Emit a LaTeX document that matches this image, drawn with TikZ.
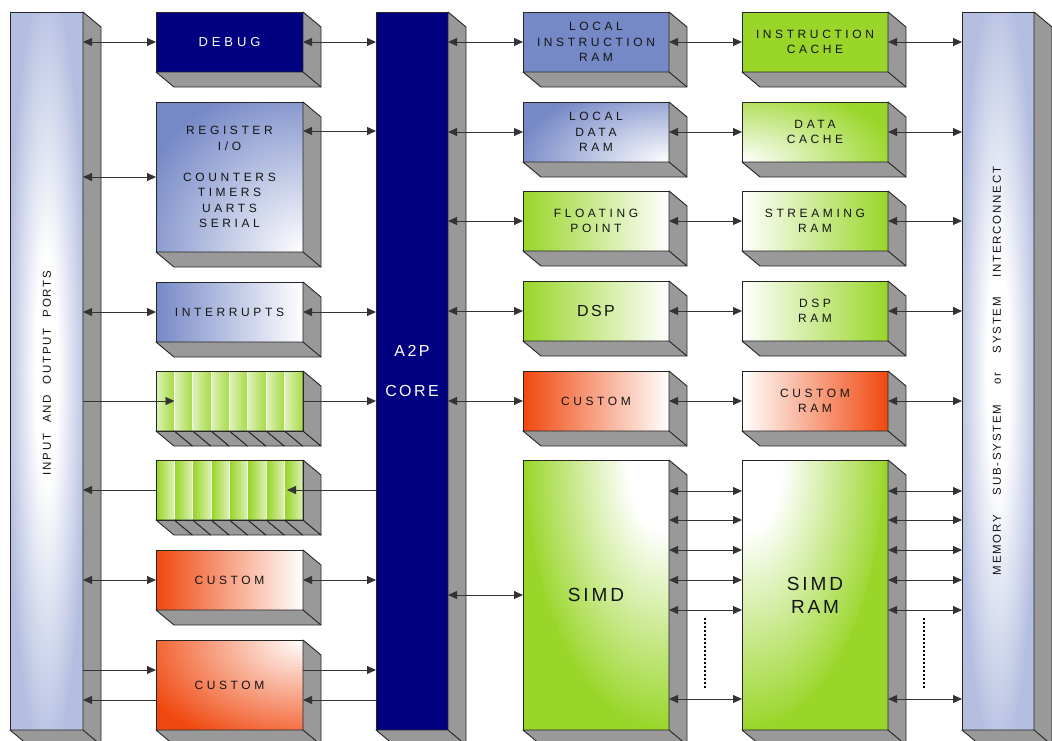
\documentclass[tikz,border=0pt]{standalone}
\usepackage{fontspec}
\setmainfont{Liberation Sans}
\newfontfamily\lblfont[LetterSpace=30]{Liberation Sans}
\newfontfamily\bigfont[LetterSpace=15]{Liberation Sans}
\newfontfamily\vfont[LetterSpace=15]{Liberation Sans}
\usetikzlibrary{arrows.meta}
\definecolor{navy}{RGB}{0,0,128}
\definecolor{peri}{RGB}{118,137,199}
\definecolor{lgreen}{RGB}{153,214,41}
\definecolor{orng}{RGB}{240,72,14}
\definecolor{lav}{RGB}{180,190,224}
\definecolor{shadowgray}{RGB}{153,153,153}
\definecolor{txt}{RGB}{20,20,20}
\pgfdeclareradialshading{greenglow}{\pgfpoint{0bp}{0bp}}{color(0bp)=(white); color(6bp)=(white); color(25bp)=(lgreen); color(50bp)=(lgreen)}
\pgfdeclareradialshading{lavglow}{\pgfpoint{0bp}{0bp}}{color(0bp)=(white); color(7bp)=(white); color(25bp)=(lav); color(50bp)=(lav)}
\tikzset{
  face/.style={draw=black!85, line width=0.9pt, inner sep=0pt, outer sep=0pt,
    anchor=north west, align=center, text=txt,
    font=\lblfont\fontsize{12}{15.5}\selectfont},
  sideface/.style={fill=shadowgray, draw=black!85, line width=0.9pt, line join=round},
  arr/.style={-{Triangle[length=9pt,width=8pt]}, line width=0.8pt, draw=black!80},
  darr/.style={{Triangle[length=9pt,width=8pt]}-{Triangle[length=9pt,width=8pt]}, line width=0.8pt, draw=black!80},
  dotline/.style={line width=1.4pt, dash pattern=on 1.6pt off 2.4pt, draw=black},
  rowbox/.style={face, minimum width=147pt, minimum height=60pt},
  colbox/.style={face, minimum width=146pt, minimum height=60pt},
  tallbox/.style={face, minimum width=146pt, minimum height=270pt},
  vertbox/.style={face, minimum width=73pt, minimum height=718pt}
}
\newcommand\threed[1]{%
  \filldraw[sideface] (#1.north east) -- ++(18,15) -- ([shift={(18,15)}]#1.south east)
    -- ([shift={(18,15)}]#1.south west) -- (#1.south west) -- (#1.south east) -- cycle;
  \draw[sideface] (#1.south east) -- ++(18,15);}
\newcommand\stripes[4]{% name, top y, left colour, right colour
  \node[inner sep=0pt, outer sep=0pt, minimum width=147pt, minimum height=60pt, anchor=north west] (#1) at (156,#2) {};
  \foreach \i in {0,...,7} {
    \pgfmathsetmacro\xa{156+\i*18.375}
    \pgfmathsetmacro\xb{\xa+18.375}
    \shade[left color=#3, right color=#4] (\xa+0.7,#2) rectangle (\xb-0.7,#2+60);
    \filldraw[sideface] (\xa,#2+60) -- (\xa+18,#2+75) -- (\xb+18,#2+75) -- (\xb,#2+60) -- cycle;
  }
  \filldraw[sideface] (#1.north east) -- ++(18,15) -- ([shift={(18,15)}]#1.south east) -- (#1.south east) -- cycle;
  \draw[line width=0.9pt, draw=black!85] (#1.south west) rectangle (#1.north east);
}
\begin{document}
\begin{tikzpicture}[x=1pt,y=-1pt]
\useasboundingbox (0,0) rectangle (1052,740);
\clip (0,0) rectangle (1052,740);
\fill[white] (0,0) rectangle (1052,740);

% tall columns
\node[vertbox, fill=lav, path picture={\shade[shading=lavglow] (path picture bounding box.center) ellipse [x radius=40, y radius=390];}] (io) at (10,12) {};
\threed{io}
\node[rotate=90, font=\vfont\fontsize{11.5}{14}\selectfont, text=txt] (iotext) at (47,373) {INPUT\hspace{6pt} AND\hspace{6pt} OUTPUT\hspace{6pt} PORTS};

\node[vertbox, minimum width=72pt, fill=lav, path picture={\shade[shading=lavglow] (path picture bounding box.center) ellipse [x radius=40, y radius=390];}] (ic) at (962,12) {};
\threed{ic}
\node[rotate=90, font=\vfont\fontsize{11.5}{14}\selectfont, text=txt] (ictext) at (997,371) {MEMORY\hspace{15pt} SUB-SYSTEM\hspace{15pt} or\hspace{15pt} SYSTEM\hspace{15pt} INTERCONNECT};

\node[vertbox, minimum width=72pt, fill=navy, text=white, font=\bigfont\fontsize{16}{20}\selectfont] (core) at (376,12) {A2P\\[20pt]CORE};
\threed{core}

% left column
\node[rowbox, fill=navy, text=white, font=\lblfont\fontsize{13}{15.5}\selectfont] (debug) at (156,12) {DEBUG};
\threed{debug}
\node[rowbox, minimum height=150pt, fill=peri, path picture={\shade[inner color=white, outer color=peri] (path picture bounding box.south east) ellipse [x radius=175, y radius=175];}] (reg) at (156,102) {REGISTER\\I/O\\[15.5pt]COUNTERS\\TIMERS\\UARTS\\SERIAL};
\threed{reg}
\node[rowbox, left color=peri, right color=white] (intr) at (156,282) {INTERRUPTS};
\threed{intr}
\stripes{sr1}{371}{lgreen!35!white}{lgreen!85!white}
\stripes{sr2}{460}{lgreen}{lgreen!35!white}
\node[rowbox, left color=orng, right color=white] (cu1) at (156,550) {CUSTOM};
\threed{cu1}
\node[rowbox, minimum height=90pt, fill=orng, path picture={\shade[inner color=white, outer color=orng] (path picture bounding box.north east) ellipse [x radius=175, y radius=115];}] (cu2) at (156,640) {CUSTOM};
\threed{cu2}

% middle column
\node[colbox, fill=peri] (lir) at (523,12) {LOCAL\\INSTRUCTION\\RAM};
\threed{lir}
\node[colbox, fill=peri, path picture={\shade[inner color=white, outer color=peri] (path picture bounding box.south east) ellipse [x radius=155, y radius=80];}] (ldr) at (523,102) {LOCAL\\DATA\\RAM};
\threed{ldr}
\node[colbox, left color=lgreen, right color=white] (fp) at (523,191) {FLOATING\\POINT};
\threed{fp}
\node[colbox, left color=lgreen, right color=white, font=\bigfont\fontsize{16}{20}\selectfont] (dsp) at (523,281) {DSP};
\threed{dsp}
\node[colbox, left color=orng, right color=white] (cm) at (523,371) {CUSTOM};
\threed{cm}
\node[tallbox, fill=lgreen, font=\bigfont\fontsize{19}{23}\selectfont, path picture={\shade[shading=greenglow] ([shift={(-4,5)}]path picture bounding box.north east) ellipse [x radius=138, y radius=262];}] (simd) at (523,460) {SIMD};
\threed{simd}

% right column
\node[colbox, fill=lgreen] (icache) at (742,12) {INSTRUCTION\\CACHE};
\threed{icache}
\node[colbox, fill=lgreen, path picture={\shade[inner color=white, outer color=lgreen] (path picture bounding box.south west) ellipse [x radius=155, y radius=80];}] (dcache) at (742,102) {DATA\\CACHE};
\threed{dcache}
\node[colbox, left color=white, right color=lgreen] (sram) at (742,191) {STREAMING\\RAM};
\threed{sram}
\node[colbox, left color=white, right color=lgreen] (dspram) at (742,281) {DSP\\RAM};
\threed{dspram}
\node[colbox, left color=white, right color=orng] (cram) at (742,371) {CUSTOM\\RAM};
\threed{cram}
\node[tallbox, fill=lgreen, font=\bigfont\fontsize{19}{23}\selectfont, path picture={\shade[shading=greenglow] ([shift={(3,5)}]path picture bounding box.north west) ellipse [x radius=138, y radius=262];}] (simdram) at (742,460) {SIMD\\RAM};
\threed{simdram}

% connectors: I/O side
\draw[darr] (io.east |- debug.west) -- (debug.west);
\draw[darr] (io.east |- reg.west) -- (reg.west);
\draw[darr] (io.east |- intr.west) -- (intr.west);
\draw[arr] (io.east |- sr1.west) -- ([xshift=18.5pt]sr1.west);
\draw[arr] (sr1.east) -- (core.west |- sr1.east);
\draw[arr] (core.west |- sr2.east) -- ([xshift=-16pt]sr2.east);
\draw[arr] (sr2.west) -- (io.east |- sr2.west);
\draw[darr] (io.east |- cu1.west) -- (cu1.west);
\draw[darr] (cu1.east) -- (core.west |- cu1.east);
\coordinate (c2inL) at ([yshift=15pt]cu2.west);
\coordinate (c2outL) at ([yshift=-15pt]cu2.west);
\coordinate (c2inR) at ([yshift=15pt]cu2.east);
\coordinate (c2outR) at ([yshift=-15pt]cu2.east);
\draw[arr] (io.east |- c2inL) -- (c2inL);
\draw[arr] (c2inR) -- (core.west |- c2inR);
\draw[arr] (core.west |- c2outR) -- (c2outR);
\draw[arr] (c2outL) -- (io.east |- c2outL);
% left blocks to core
\draw[darr] (debug.east) -- (core.west |- debug.east);
\coordinate (regR) at ([yshift=46pt]reg.east);
\draw[darr] (regR) -- (core.west |- regR);
\draw[darr] (intr.east) -- (core.west |- intr.east);
% core to middle
\foreach \n in {lir,ldr,fp,dsp,cm,simd} \draw[darr] (core.east |- \n.west) -- (\n.west);
% middle to right
\foreach \a/\b in {lir/icache,ldr/dcache,fp/sram,dsp/dspram,cm/cram} \draw[darr] (\a.east) -- (\b.west);
% right to interconnect
\foreach \b in {icache,dcache,sram,dspram,cram} \draw[darr] (\b.east) -- (ic.west |- \b.east);
% SIMD lanes
\foreach \d in {31,60,90,120,150,239} {
  \coordinate (s\d) at ([yshift=-\d pt]simd.north east);
  \draw[darr] (s\d) -- (simdram.west |- s\d);
  \draw[darr] (simdram.east |- s\d) -- (ic.west |- s\d);
}
\coordinate (dA1) at ([yshift=-158pt]simd.north east);
\coordinate (dA2) at ([yshift=-228pt]simd.north east);
\draw[dotline] ([xshift=36pt]dA1) -- ([xshift=36pt]dA2);
\draw[dotline] ([xshift=36pt]simdram.east |- dA1) -- ([xshift=36pt]simdram.east |- dA2);
\end{tikzpicture}
\end{document}
